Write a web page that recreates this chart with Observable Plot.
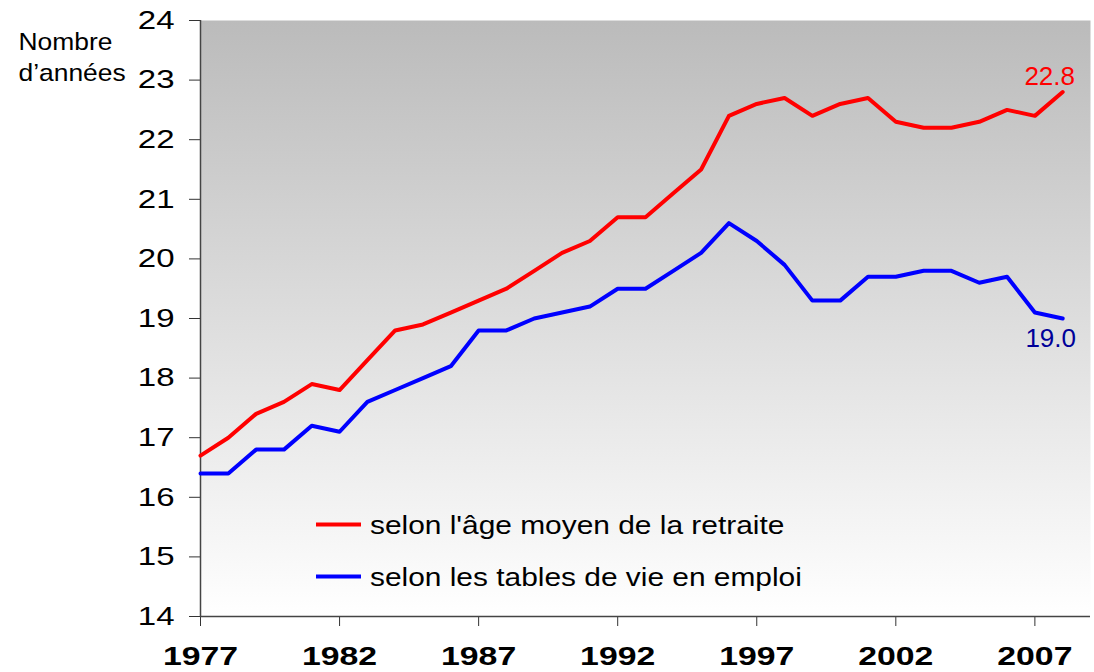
<!DOCTYPE html>
<html>
<head>
<meta charset="utf-8">
<script src="https://cdn.jsdelivr.net/npm/d3@7"></script>
<script src="https://cdn.jsdelivr.net/npm/@observablehq/plot@0.6"></script>
<style>
  html, body { margin: 0; padding: 0; background: #fff; }
  #chart svg { display: block; }
</style>
</head>
<body>
<div id="chart"></div>
<script>
// ---- Data ----
const years = [1977,1978,1979,1980,1981,1982,1983,1984,1985,1986,1987,1988,1989,1990,1991,1992,
               1993,1994,1995,1996,1997,1998,1999,2000,2001,2002,2003,2004,2005,2006,2007,2008];
const ageMoyenRetraite = [16.7,17.0,17.4,17.6,17.9,17.8,18.3,18.8,18.9,19.1,19.3,19.5,19.8,20.1,20.3,20.7,
                          20.7,21.1,21.5,22.4,22.6,22.7,22.4,22.6,22.7,22.3,22.2,22.2,22.3,22.5,22.4,22.8];
const tablesVieEmploi = [16.4,16.4,16.8,16.8,17.2,17.1,17.6,17.8,18.0,18.2,18.8,18.8,19.0,19.1,19.2,19.5,
                         19.5,19.8,20.1,20.6,20.3,19.9,19.3,19.3,19.7,19.7,19.8,19.8,19.6,19.7,19.1,19.0];
const seriesNames = ["selon l'âge moyen de la retraite", "selon les tables de vie en emploi"];
const seriesColors = ["#ff0000", "#0000ff"];
const endLabelColors = ["#ff0000", "#000099"];
const xTicks = [1977, 1982, 1987, 1992, 1997, 2002, 2007];
const yTicks = [14, 15, 16, 17, 18, 19, 20, 21, 22, 23, 24];
const yTitle = "Nombre\nd’années";

// ---- Table built from the arrays ----
const rows = years.flatMap((yr, i) => [
  {year: yr, value: ageMoyenRetraite[i], series: seriesNames[0]},
  {year: yr, value: tablesVieEmploi[i], series: seriesNames[1]}
]);
const last = years.length - 1;
const endRed = [{year: years[last], value: ageMoyenRetraite[last]}];
const endBlue = [{year: years[last], value: tablesVieEmploi[last]}];

const M = {left: 200, right: 4, top: 20, bottom: 56};

const chart = Plot.plot({
  width: 1094,
  height: 672,
  marginLeft: M.left,
  marginRight: M.right,
  marginTop: M.top,
  marginBottom: M.bottom,
  style: {fontFamily: "'Liberation Sans', Arial, sans-serif", background: "#ffffff", color: "#000"},
  x: {domain: [1977, 2009]},
  y: {domain: [14, 24]},
  color: {domain: seriesNames, range: seriesColors},
  marks: [
    Plot.frame({fill: "url(#bgGrad)"}),
    Plot.axisY({ticks: yTicks, tickSize: 11, tickPadding: 15, fontSize: 26, stroke: "#333", label: null}),
    Plot.axisX({ticks: xTicks, tickFormat: d => String(d), tickSize: 10, tickPadding: 20, fontSize: 26, fontWeight: "bold", stroke: "#333", label: null}),
    Plot.ruleX([1977], {stroke: "#444", strokeWidth: 1.5}),
    Plot.ruleY([14], {stroke: "#444", strokeWidth: 1.5}),
    Plot.line(rows, {x: "year", y: "value", z: "series", stroke: "series", strokeWidth: 4, strokeLinejoin: "round"}),
    Plot.text(endRed, {x: "year", y: "value", text: d => d.value.toFixed(1), fill: endLabelColors[0], fontSize: 26, textAnchor: "middle", lineAnchor: "bottom", dx: -13, dy: -7}),
    Plot.text(endBlue, {x: "year", y: "value", text: d => d.value.toFixed(1), fill: endLabelColors[1], fontSize: 26, textAnchor: "middle", lineAnchor: "top", dx: -12, dy: 10}),
    Plot.text([yTitle], {frameAnchor: "top-left", text: d => d, dx: -182, dy: 7, textAnchor: "start", lineAnchor: "top", lineHeight: 1.3, fontSize: 24, fill: "#000"})
  ]
});

document.getElementById("chart").appendChild(chart);

const svg = d3.select(chart);
// gradient background definition
const defs = svg.insert("defs", ":first-child");
const grad = defs.append("linearGradient").attr("id", "bgGrad")
  .attr("x1", 0).attr("y1", 0).attr("x2", 0).attr("y2", 1);
grad.append("stop").attr("offset", "0%").attr("stop-color", "#bbbbbb");
grad.append("stop").attr("offset", "100%").attr("stop-color", "#ffffff");

// legend (inside the plot area, lower left)
const legend = svg.append("g").attr("aria-label", "legend")
  .attr("font-family", "'Liberation Sans', Arial, sans-serif").attr("font-size", 26)
  .attr("text-anchor", "start");
seriesNames.forEach((name, i) => {
  const y = 524.5 + i * 52;
  legend.append("line").attr("x1", M.left + 116).attr("x2", M.left + 161)
    .attr("y1", y).attr("y2", y).attr("stroke", seriesColors[i]).attr("stroke-width", 4);
  legend.append("text").attr("x", M.left + 170).attr("y", y + 10)
    .attr("fill", "#000").attr("text-anchor", "start").attr("class", "stretch-legend").text(name);
});

// horizontal stretch to mimic the reference's widened lettering
function stretch(sel, s) {
  sel.each(function () {
    const x = +(this.getAttribute("x") || 0);
    const t = this.getAttribute("transform") || "";
    this.setAttribute("transform", `${t} translate(${x},0) scale(${s},1) translate(${-x},0)`);
  });
}
stretch(svg.selectAll('g[aria-label="y-axis tick label"] text'), 1.27);
svg.selectAll('g[aria-label="x-axis tick label"]').attr("font-weight", "bold");
stretch(svg.selectAll('g[aria-label="x-axis tick label"] text'), 1.3);
stretch(svg.selectAll('text.stretch-legend'), 1.15);
stretch(svg.selectAll("text").filter(function () { return this.textContent.startsWith("Nombre"); }), 1.1);
</script>
</body>
</html>
